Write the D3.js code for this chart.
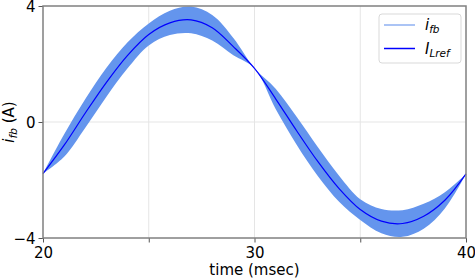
<!DOCTYPE html>
<html>
<head>
<meta charset="utf-8">
<script src="https://cdn.jsdelivr.net/npm/d3@7"></script>
<style>
  body { margin: 0; background: #fff; }
  text { font-family: "DejaVu Sans", sans-serif; }
</style>
</head>
<body>
<div id="chart"></div>
<script>
// time (msec)
const time = [20, 21, 22, 23, 24, 25, 26, 27, 28, 29, 30, 31, 32, 33, 34, 35, 36, 37, 38, 39, 40];
// reference current I_Lref (A)
const iLref = [-1.78, -0.80, 0.31, 1.37, 2.30, 3.02, 3.42, 3.52, 3.25, 2.60, 1.85,
               0.80, -0.31, -1.37, -2.30, -3.02, -3.42, -3.50, -3.25, -2.70, -1.79];
// i_fb band, upper and lower edge (A)
const ifbUpper = [-1.78, -0.42, 0.79, 1.87, 2.75, 3.40, 3.84, 3.98, 3.69, 2.90, 1.85,
                  1.15, 0.17, -0.87, -1.85, -2.66, -3.00, -3.04, -2.82, -2.42, -1.79];
const ifbLower = [-1.78, -1.20, -0.20, 0.87, 1.85, 2.64, 3.00, 3.06, 2.81, 2.30, 1.85,
                  0.45, -0.79, -1.87, -2.75, -3.38, -3.84, -3.96, -3.68, -2.98, -1.79];
const xTicks = [20, 25, 30, 35, 40];
const xLabels = [20, 30, 40];
const yTicks = [-4, 0, 4];

const width = 475, height = 278;
const margin = {top: 6, right: 9, bottom: 40, left: 43};

const svg = d3.select("#chart").append("svg")
  .attr("width", width)
  .attr("height", height);

const x = d3.scaleLinear().domain([20, 40]).range([margin.left, width - margin.right]);
const y = d3.scaleLinear().domain([-4, 4]).range([height - margin.bottom, margin.top]);

const data = time.map((t, i) => ({t, c: iLref[i], hi: ifbUpper[i], lo: ifbLower[i]}));

// grid
svg.append("g").selectAll("line")
  .data(xTicks.slice(1, -1))
  .join("line")
  .attr("x1", d => x(d)).attr("x2", d => x(d))
  .attr("y1", y(4)).attr("y2", y(-4))
  .attr("stroke", "#e5e5e5").attr("stroke-width", 1);
svg.append("g").selectAll("line")
  .data(yTicks.slice(1, -1))
  .join("line")
  .attr("x1", x(20)).attr("x2", x(40))
  .attr("y1", d => y(d)).attr("y2", d => y(d))
  .attr("stroke", "#e5e5e5").attr("stroke-width", 1);

// band + line
svg.append("path")
  .datum(data)
  .attr("fill", "#6495ed")
  .attr("d", d3.area()
    .x(d => x(d.t))
    .y0(d => y(d.lo))
    .y1(d => y(d.hi))
    .curve(d3.curveCatmullRom));

svg.append("path")
  .datum(data)
  .attr("fill", "none")
  .attr("stroke", "#0000ff")
  .attr("stroke-width", 1.2)
  .attr("d", d3.line()
    .x(d => x(d.t))
    .y(d => y(d.c))
    .curve(d3.curveCatmullRom));

// axes
const xAxis = svg.append("g")
  .attr("transform", `translate(0,${height - margin.bottom})`)
  .call(d3.axisBottom(x).tickValues(xTicks).tickSize(4.5).tickPadding(3)
    .tickFormat(d => xLabels.includes(d) ? d : ""));
const yAxis = svg.append("g")
  .attr("transform", `translate(${margin.left},0)`)
  .call(d3.axisLeft(y).tickValues(yTicks).tickSize(4.5).tickPadding(3));

[xAxis, yAxis].forEach(g => {
  g.select(".domain").remove();
  g.selectAll(".tick line").attr("stroke", "#555").attr("stroke-width", 1);
  g.selectAll(".tick text").attr("fill", "#000").style("font-size", "15px")
    .style("font-family", "DejaVu Sans");
});
xAxis.selectAll(".tick text").attr("dy", "0.8em");
yAxis.selectAll(".tick text").attr("dy", "0.36em");

// frame
svg.append("rect")
  .attr("x", x(20)).attr("y", y(4))
  .attr("width", x(40) - x(20)).attr("height", y(-4) - y(4))
  .attr("fill", "none").attr("stroke", "#808080").attr("stroke-width", 1.5);

// axis labels
svg.append("text")
  .attr("x", (x(20) + x(40)) / 2).attr("y", 275)
  .attr("text-anchor", "middle")
  .style("font-size", "15px")
  .text("time (msec)");

const yl = svg.append("text")
  .attr("transform", `translate(14,${(y(4) + y(-4)) / 2}) rotate(-90)`)
  .attr("text-anchor", "middle")
  .style("font-size", "15px");
yl.append("tspan").style("font-style", "italic").text("i");
yl.append("tspan").style("font-style", "italic").style("font-size", "10.5px").attr("dy", 3).text("fb");
yl.append("tspan").attr("dy", -3).text(" (A)");

// legend
const lg = svg.append("g");
lg.append("rect")
  .attr("x", 379).attr("y", 14).attr("width", 82).attr("height", 49)
  .attr("rx", 3)
  .attr("fill", "#fff").attr("fill-opacity", 0.8)
  .attr("stroke", "#d9d9d9").attr("stroke-width", 1);
const items = [
  {main: "i", sub: "fb", color: "#8fb0f2"},
  {main: "I", sub: "Lref", color: "#0000ff"}
];
items.forEach((it, i) => {
  const yy = 25 + i * 23.5;
  lg.append("line")
    .attr("x1", 384).attr("x2", 415).attr("y1", yy).attr("y2", yy)
    .attr("stroke", it.color).attr("stroke-width", 1.5);
  const t = lg.append("text").attr("x", 425).attr("y", yy + 5).style("font-size", "15px");
  t.append("tspan").style("font-style", "italic").text(it.main);
  t.append("tspan").style("font-style", "italic").style("font-size", "10.5px").attr("dy", 3).text(it.sub);
});
</script>
</body>
</html>
